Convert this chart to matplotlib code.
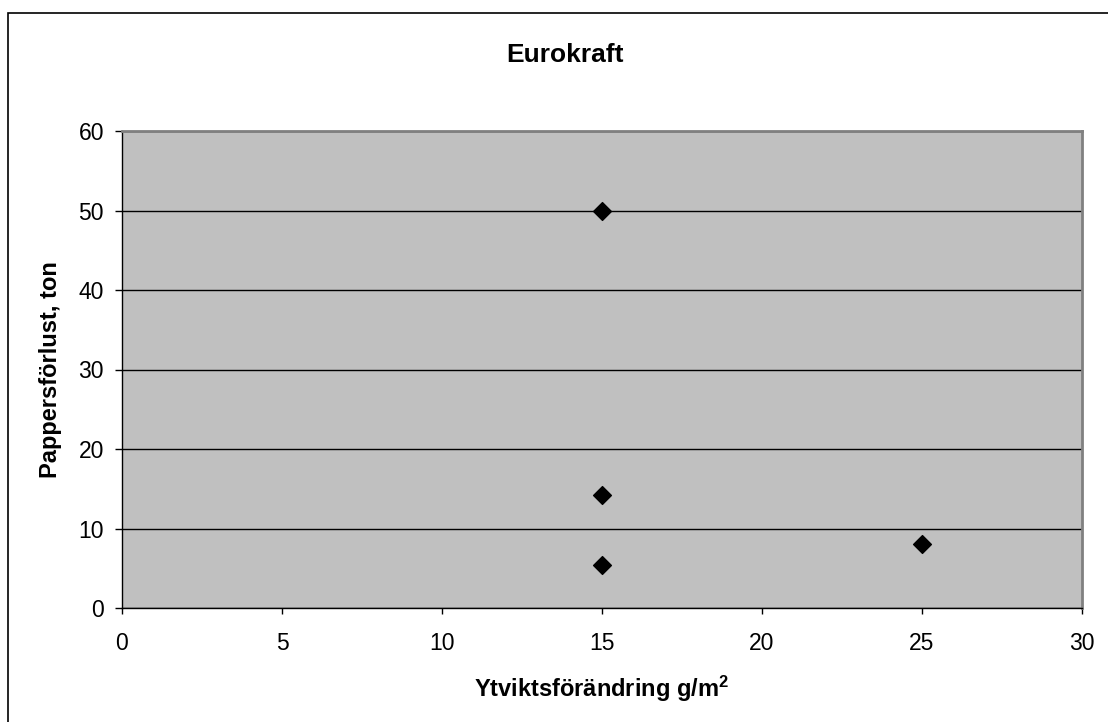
import matplotlib.pyplot as plt
from matplotlib.patches import Rectangle

plt.rcParams['font.family'] = ['Liberation Sans', 'DejaVu Sans']
plt.rcParams['mathtext.fontset'] = 'custom'
plt.rcParams['mathtext.rm'] = 'Liberation Sans'
plt.rcParams['mathtext.bf'] = 'Liberation Sans:bold'

# Eurokraft data
ytvikt = [15, 15, 15, 25]
forlust = [50, 14.2, 5.4, 8.1]

xticks = [0, 5, 10, 15, 20, 25, 30]
yticks = [0, 10, 20, 30, 40, 50, 60]

fig = plt.figure(figsize=(11.08, 7.22), dpi=100)
fig.patches.append(Rectangle((8 / 1108, -0.05), 1.2, 1 - 13 / 722 + 0.05,
                             transform=fig.transFigure, fill=False,
                             edgecolor="black", linewidth=1.2))

ax = fig.add_axes([122 / 1108, 1 - 608 / 722, 960 / 1108, 477 / 722])
ax.set_facecolor("#c0c0c0")

ax.scatter(ytvikt, forlust, marker="D", s=82, color="black", zorder=3)

ax.set_xlim(0, 30)
ax.set_ylim(0, 60)
ax.set_xticks(xticks)
ax.set_yticks(yticks)
ax.yaxis.grid(True, color="black", linewidth=1)
ax.set_axisbelow(True)

for side in ("top", "right"):
    ax.spines[side].set_color("#808080")
    ax.spines[side].set_linewidth(2)
for side in ("left", "bottom"):
    ax.spines[side].set_color("black")
    ax.spines[side].set_linewidth(1)

ax.tick_params(direction="out", width=1, labelsize=16.5)
ax.tick_params(axis="x", length=4, pad=13)
ax.tick_params(axis="y", length=5, pad=8)

# title sits a bit left of the plot centre, as in the original
ax.set_title("Eurokraft", fontsize=19, fontweight="bold", pad=50, x=0.4615)
ax.set_xlabel("Ytviktsförändring g/m$\\mathbf{^2}$", fontsize=17,
              fontweight="bold", labelpad=13.5)
ax.set_ylabel("Pappersförlust, ton", fontsize=17, fontweight="bold",
              labelpad=12)

fig.savefig("out.png", dpi=100)
